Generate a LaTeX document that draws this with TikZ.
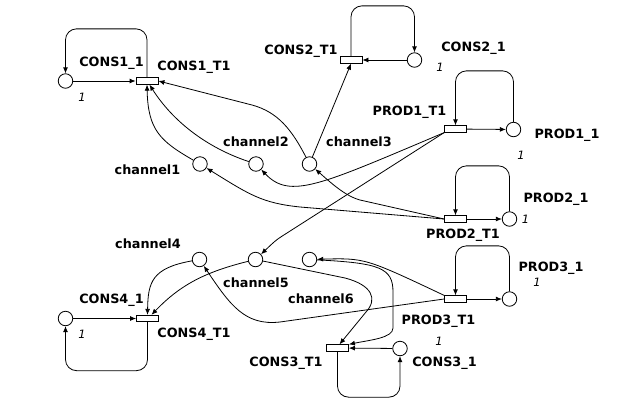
\documentclass[tikz,border=0pt]{standalone}
\usepackage{fontspec}
\setmainfont{DejaVu Sans}
\usetikzlibrary{arrows.meta}
\begin{document}
\begin{tikzpicture}[x=1pt,y=-1pt,
  place/.style={circle,draw,line width=0.8pt,minimum size=14.5pt,inner sep=0pt},
  trans/.style={rectangle,draw,line width=0.8pt,minimum width=22pt,minimum height=6.5pt,inner sep=0pt},
  lbl/.style={font=\fontsize{12.8}{14}\selectfont\bfseries,inner sep=0pt},
  tok/.style={font=\fontsize{11.5}{12}\selectfont\itshape,inner sep=0pt},
  arc/.style={line width=0.8pt,-{Latex[length=6pt,width=5pt]}},
  selfloop/.style={arc,rounded corners=11pt}]
\useasboundingbox (0,0) rectangle (625,400);

% places
\node[place] (c11) at (65.5,81) {};
\node[place] (c21) at (414.5,60) {};
\node[place] (p11) at (513.5,129.5) {};
\node[place] (p21) at (509.5,219) {};
\node[place] (p31) at (509.5,299) {};
\node[place] (c31) at (400,348.5) {};
\node[place] (c41) at (65.5,318.5) {};
\node[place] (ch1) at (200,164) {};
\node[place] (ch2) at (256,164) {};
\node[place] (ch3) at (309.5,164) {};
\node[place] (ch4) at (199.5,259.5) {};
\node[place] (ch5) at (255.5,259.5) {};
\node[place] (ch6) at (309.5,259.5) {};

% transitions
\node[trans] (t1) at (147,81) {};
\node[trans] (t2) at (351,60) {};
\node[trans] (tp1) at (455.5,129) {};
\node[trans] (tp2) at (455.5,219) {};
\node[trans] (tp3) at (455.5,299) {};
\node[trans] (t3) at (337.5,348) {};
\node[trans] (t4) at (147.5,318.5) {};

% labels
\node[lbl] (lc11) at (111.5,63) {CONS1\_1};
\node[lbl] (lt1) at (194,67) {CONS1\_T1};
\node[lbl] (lt2) at (301,51) {CONS2\_T1};
\node[lbl] (lc21) at (473.5,48.5) {CONS2\_1};
\node[lbl] (ltp1) at (409.5,112) {PROD1\_T1};
\node[lbl] (lp11) at (567,135) {PROD1\_1};
\node[lbl] (lp21) at (556,199) {PROD2\_1};
\node[lbl] (ltp2) at (463,235) {PROD2\_T1};
\node[lbl] (lp31) at (551,268) {PROD3\_1};
\node[lbl] (ltp3) at (438.5,321) {PROD3\_T1};
\node[lbl] (lc31) at (444.5,363) {CONS3\_1};
\node[lbl] (lt3) at (286,363) {CONS3\_T1};
\node[lbl] (lc41) at (111.5,300) {CONS4\_1};
\node[lbl] (lt4) at (194,334) {CONS4\_T1};
\node[lbl] (lch1) at (147.5,170) {channel1};
\node[lbl] (lch2) at (256,142) {channel2};
\node[lbl] (lch3) at (359,142) {channel3};
\node[lbl] (lch4) at (148,244) {channel4};
\node[lbl] (lch5) at (256,283) {channel5};
\node[lbl] (lch6) at (321,299) {channel6};

% tokens
\node[tok] (k11) at (82,97) {1};
\node[tok] (k21) at (440,67) {1};
\node[tok] (kp11) at (521,155) {1};
\node[tok] (kp21) at (525.5,219.5) {1};
\node[tok] (kp31) at (537,282) {1};
\node[tok] (k31) at (439,341) {1};
\node[tok] (k41) at (82,334) {1};

% straight arcs
\draw[arc] (c11) -- (t1);
\draw[arc] (c21) -- (t2);
\draw[arc] (tp1) -- (p11);
\draw[arc] (tp2) -- (p21);
\draw[arc] (tp3) -- (p31);
\draw[arc] (c31) -- (t3);
\draw[arc] (c41) -- (t4);

% self loops
\draw[selfloop] (t1.north) -- ++(0,-48.5) -| (c11.north);
\draw[selfloop] (t2.north) -- ++(0,-50.5) -| (c21.north);
\draw[selfloop] (p11.north) -- ++(0,-51) -| (tp1.north);
\draw[selfloop] (p21.north) -- ++(0,-45.5) -| (tp2.north);
\draw[selfloop] (p31.north) -- ++(0,-45.5) -| (tp3.north);
\draw[selfloop] (t3.south) -- ++(0,45.5) -| (c31.south);
\draw[selfloop] (t4.south) -- ++(0,48.5) -| (c41.south);

% channels to consumers
\draw[arc] (ch1) .. controls (160,141) and (148,130) .. (t1.south);
\draw[arc] (ch2) .. controls (205,147) and (172,120) .. ([xshift=2.5pt]t1.south);
\draw[arc] (ch3) .. controls (292,130) and (278,112) .. (252,105) -- (t1.east);
\draw[arc] (ch3) -- (t2.south);
\draw[arc] (ch4) .. controls (152,268) and (148,282) .. (t4.north);
\draw[arc] (ch5) .. controls (205,272) and (180,285) .. ([xshift=4pt]t4.north);
\draw[arc] (ch5) -- (345,278) .. controls (372,285) and (378,299) .. (366,312) -- ([xshift=2pt]t3.north);
\draw[arc] (ch6) .. controls (380,263) and (393,268) .. (393,292) -- (393,328) .. controls (393,338) and (370,340) .. (t3.north east);

% producers to channels
\draw[arc] (tp1.south west) .. controls (320,185) and (290,200) .. (ch2);
\draw[arc] (tp1.south west) -- (287,233) .. controls (276,240) .. (ch5);
\draw[arc] (tp2.west) -- (300,207) .. controls (262,203) and (250,195) .. (ch1);
\draw[arc] (tp2.west) -- (360,200) .. controls (345,196) and (330,182) .. (ch3);
\draw[arc] (tp3.west) -- (280,322) .. controls (245,326) and (230,305) .. (ch4);
\draw[arc] (tp3.north west) .. controls (365,258) .. (ch6);
\end{tikzpicture}
\end{document}
